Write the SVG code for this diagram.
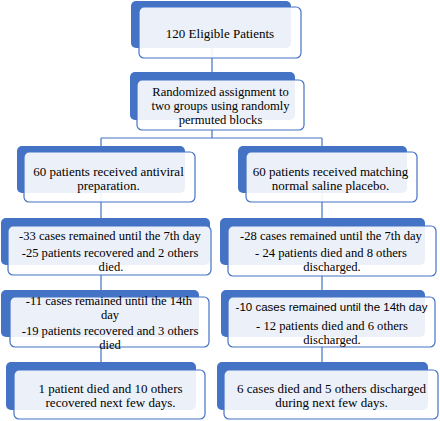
<svg xmlns="http://www.w3.org/2000/svg" width="440" height="421" viewBox="0 0 440 421">
<style>
.back{fill:#4472c4;}
.front{fill:#ffffff;fill-opacity:0.9;stroke:#4472c4;stroke-width:1.2;}
.t{font-family:"Liberation Serif","Times New Roman",serif;font-size:13px;fill:#000;text-anchor:middle;}
.m{font-size:12.6px;}
.s{font-family:"Liberation Sans",Arial,sans-serif;font-size:11.5px;fill:#000;text-anchor:middle;}
.c{stroke:#4472c4;stroke-width:1.2;fill:none;}
</style>
<rect width="440" height="421" fill="#ffffff"/>
<g id="connectors">
<path class="c" d="M212,48V72M212,120V138M101,138H322M101,138V146M322,138V146M101,193V218M322,193V218M101,265V290M322,265V290M101,337V362M322,337V362"/>
</g>
<g id="n1">
<rect class="back" x="131" y="1" width="160" height="47" rx="5"/>
<rect class="front" x="139" y="7" width="162" height="51" rx="5"/>
<text class="t" x="220" y="38">120 Eligible Patients</text>
</g>
<g id="n2">
<rect class="back" x="130" y="72" width="165" height="48" rx="5"/>
<rect class="front" x="137" y="80" width="167" height="50" rx="5"/>
<text class="t m" x="220.5" y="96">Randomized assignment to</text>
<text class="t m" x="220.5" y="110">two groups using randomly</text>
<text class="t m" x="220.5" y="124">permuted blocks</text>
</g>
<g id="n3">
<rect class="back" x="17" y="146" width="168" height="47" rx="5"/>
<rect class="front" x="24" y="152" width="171" height="50" rx="5"/>
<text class="t" x="108.5" y="175.5">60 patients received antiviral</text>
<text class="t" x="108.5" y="189.5">preparation.</text>
</g>
<g id="n4">
<rect class="back" x="238" y="146" width="169" height="47" rx="5"/>
<rect class="front" x="246" y="152" width="171" height="50" rx="5"/>
<text class="t" x="330.5" y="175.5">60 patients received matching</text>
<text class="t" x="330.5" y="189.5">normal saline placebo.</text>
</g>
<g id="n5">
<rect class="back" x="1" y="218" width="209" height="47" rx="5"/>
<rect class="front" x="8" y="226" width="203" height="49" rx="5"/>
<text class="t m" x="110" y="239.5">-33 cases remained until the 7th day</text>
<text class="t m" x="110" y="256.5">-25 patients recovered and 2 others</text>
<text class="t m" x="111" y="270.5">died.</text>
</g>
<g id="n6">
<rect class="back" x="220" y="218" width="205" height="47" rx="5"/>
<rect class="front" x="228" y="226" width="208" height="50" rx="5"/>
<text class="t m" x="331" y="239.5">-28 cases remained until the 7th day</text>
<text class="t m" x="331" y="257">- 24 patients died and 8 others</text>
<text class="t m" x="332" y="271">discharged.</text>
</g>
<g id="n7">
<rect class="back" x="1" y="290" width="198" height="47" rx="5"/>
<rect class="front" x="10" y="297" width="199" height="50" rx="5"/>
<text class="t m" x="109" y="304.5">-11 cases remained until the 14th</text>
<text class="t m" x="110" y="318.5">day</text>
<text class="t m" x="110" y="335">-19 patients recovered and 3 others</text>
<text class="t m" x="110" y="349">died</text>
</g>
<g id="n8">
<rect class="back" x="221" y="290" width="204" height="47" rx="5"/>
<rect class="front" x="228" y="297" width="207" height="50" rx="5"/>
<text class="s" x="331.5" y="311">-10 cases remained until the 14th day</text>
<text class="t m" x="332" y="329.5">- 12 patients died and 6 others</text>
<text class="t m" x="332" y="343.5">discharged.</text>
</g>
<g id="n9">
<rect class="back" x="6" y="362" width="190" height="48" rx="5"/>
<rect class="front" x="14" y="370" width="191" height="49" rx="5"/>
<text class="t" x="110.5" y="392.5">1 patient died and 10 others</text>
<text class="t" x="110.5" y="406.5">recovered next few days.</text>
</g>
<g id="n10">
<rect class="back" x="217" y="362" width="211" height="48" rx="5"/>
<rect class="front" x="224" y="370" width="214" height="49" rx="5"/>
<text class="t" x="331.5" y="392.5">6 cases died and 5 others discharged</text>
<text class="t" x="331.5" y="406.5">during next few days.</text>
</g>
</svg>
